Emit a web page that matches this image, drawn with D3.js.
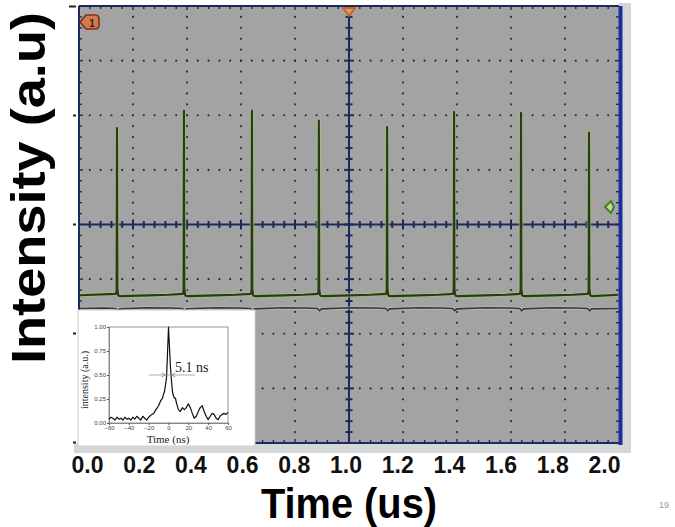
<!DOCTYPE html>
<html>
<head>
<meta charset="utf-8">
<script src="https://cdn.jsdelivr.net/npm/d3@7/dist/d3.min.js"></script>
<style>
  html, body { margin: 0; padding: 0; background: #fff; }
  svg { display: block; }
</style>
</head>
<body>
<div id="main"></div>
<script>
// --- data ---
var xTicks = [0.0, 0.2, 0.4, 0.6, 0.8, 1.0, 1.2, 1.4, 1.6, 1.8, 2.0];
var yTicks = [0, 1, 2, 3, 4];
// pulse times (us) and peak heights (a.u., in screen units)
var pulseTimes = [0.116, 0.375, 0.638, 0.897, 1.161, 1.420, 1.679, 1.942];
var pulsePeaks = [2.88, 3.04, 3.04, 2.95, 2.89, 3.03, 3.02, 2.84];
var baseLevel = 1.355;
var refLevel = 1.225;
// shape of one spike around its peak: [dt (us), offset from baseline]
var pulseShape = [[-0.004, 0.004], [-0.0015, 0.04], [0, null], [0.0015, 0.05], [0.005, -0.012], [0.016, -0.017], [0.12, -0.01], [0.2, -0.004]];
// inset: single pulse
var insetT = [-60, -58, -56, -54, -52, -50, -48, -46, -44, -42, -40, -38, -36, -34, -32, -30, -28, -26, -24, -22, -20,
  -18, -15, -12, -10, -8, -6, -5, -4, -3, -2, -1, 0, 1, 2, 3, 4, 5, 6, 7, 8, 10, 12, 14, 16, 18, 20, 22, 24, 26, 28,
  30, 32, 34, 36, 38, 40, 42, 44, 46, 48, 50, 52, 54, 56, 58, 60];
var insetV = [0.04, 0.06, 0.05, 0.03, 0.06, 0.04, 0.05, 0.03, 0.06, 0.04, 0.05, 0.03, 0.06, 0.04, 0.07, 0.05, 0.03, 0.07, 0.05, 0.03, 0.06,
  0.08, 0.1, 0.15, 0.18, 0.23, 0.26, 0.3, 0.33, 0.4, 0.47, 0.72, 1.0, 0.79, 0.58, 0.44, 0.33, 0.28, 0.26, 0.26, 0.21, 0.14, 0.12, 0.16, 0.14, 0.16, 0.2, 0.16, 0.1, 0.05, 0.07,
  0.12, 0.16, 0.18, 0.12, 0.07, 0.035, 0.07, 0.1, 0.09, 0.05, 0.035, 0.07, 0.09, 0.1, 0.09, 0.11];
var insetXTicks = [-60, -40, -20, 0, 20, 40, 60];
var insetYTicks = [0, 0.25, 0.5, 0.75, 1.0];

var W = 675, H = 527;
var svg = d3.select('#main').append('svg').attr('width', W).attr('height', H);
svg.append('rect').attr('width', W).attr('height', H).attr('fill', '#fff');

// scope graticule scales (10 x 8 divisions)
var gx = d3.scaleLinear().domain([0, 10]).range([79, 619]);
var gy = d3.scaleLinear().domain([0, 8]).range([6, 443]);
// data scales
var x = d3.scaleLinear().domain([0, 2]).range([87, 604]);
var y = d3.scaleLinear().domain([0, 4]).range([442, 6]);

// bevel / frame
svg.append('rect').attr('x', 619).attr('y', 3).attr('width', 12).attr('height', 450).attr('fill', '#d4d6d8');
svg.append('rect').attr('x', 74).attr('y', 443).attr('width', 557).attr('height', 10).attr('fill', '#d4d6d8');
svg.append('rect').attr('x', gx(0)).attr('y', gy(0)).attr('width', gx(10) - gx(0)).attr('height', gy(8) - gy(0))
    .attr('fill', '#a3a3a3');

var grid = svg.append('g');
var dotColor = '#2b2e3a';
// dotted major grid lines
d3.range(1, 10).filter(d => d !== 5).forEach(function (i) {
    grid.append('g').selectAll('circle').data(d3.range(1, 40)).enter().append('circle')
        .attr('cx', gx(i)).attr('cy', d => gy(d / 5)).attr('r', 1.1).attr('fill', dotColor);
});
d3.range(1, 8).filter(d => d !== 4).forEach(function (j) {
    grid.append('g').selectAll('circle').data(d3.range(1, 50)).enter().append('circle')
        .attr('cx', d => gx(d / 5)).attr('cy', gy(j)).attr('r', 1.1).attr('fill', dotColor);
});

var navy = '#1d2b5c';
// centre lines with cross ticks
grid.append('line').attr('x1', gx(0)).attr('x2', gx(10)).attr('y1', gy(4)).attr('y2', gy(4))
    .attr('stroke', navy).attr('stroke-width', 2);
grid.append('line').attr('x1', gx(5)).attr('x2', gx(5)).attr('y1', gy(0)).attr('y2', gy(8))
    .attr('stroke', navy).attr('stroke-width', 2);
grid.append('g').selectAll('line').data(d3.range(1, 50)).enter().append('line')
    .attr('x1', d => gx(d / 5)).attr('x2', d => gx(d / 5))
    .attr('y1', d => gy(4) - (d % 5 === 0 ? 5 : 3.5)).attr('y2', d => gy(4) + (d % 5 === 0 ? 5 : 3.5))
    .attr('stroke', navy).attr('stroke-width', 2);
grid.append('g').selectAll('line').data(d3.range(1, 40)).enter().append('line')
    .attr('y1', d => gy(d / 5)).attr('y2', d => gy(d / 5))
    .attr('x1', d => gx(5) - (d % 5 === 0 ? 5 : 3.5)).attr('x2', d => gx(5) + (d % 5 === 0 ? 5 : 3.5))
    .attr('stroke', navy).attr('stroke-width', 2);

// border with inner ticks
var bt = grid.append('g').attr('stroke', navy).attr('stroke-width', 1.4);
d3.range(1, 50).forEach(function (d) {
    var len = d % 5 === 0 ? 4 : 3;
    bt.append('line').attr('x1', gx(d / 5)).attr('x2', gx(d / 5)).attr('y1', gy(0)).attr('y2', gy(0) + len);
    bt.append('line').attr('x1', gx(d / 5)).attr('x2', gx(d / 5)).attr('y1', gy(8)).attr('y2', gy(8) - len);
});
d3.range(1, 40).forEach(function (d) {
    var len = d % 5 === 0 ? 4 : 3;
    bt.append('line').attr('y1', gy(d / 5)).attr('y2', gy(d / 5)).attr('x1', gx(0)).attr('x2', gx(0) + len);
    bt.append('line').attr('y1', gy(d / 5)).attr('y2', gy(d / 5)).attr('x1', gx(10)).attr('x2', gx(10) - len);
});
grid.append('line').attr('x1', gx(0)).attr('x2', gx(10)).attr('y1', gy(0)).attr('y2', gy(0)).attr('stroke', navy).attr('stroke-width', 2);
grid.append('line').attr('x1', gx(0)).attr('x2', gx(0)).attr('y1', gy(0)).attr('y2', gy(8)).attr('stroke', navy).attr('stroke-width', 2);
grid.append('line').attr('x1', gx(0)).attr('x2', gx(10)).attr('y1', gy(8)).attr('y2', gy(8)).attr('stroke', navy).attr('stroke-width', 2);
grid.append('line').attr('x1', gx(10) + 1.5).attr('x2', gx(10) + 1.5).attr('y1', gy(0)).attr('y2', gy(8) + 2)
    .attr('stroke', '#1b2f9a').attr('stroke-width', 4);

// --- traces ---
var tStart = x.invert(gx(0) + 1), tEnd = x.invert(gx(10) - 1);
var tracePts = [[tStart, baseLevel - 0.008]];
pulseTimes.forEach(function (t, i) {
    pulseShape.forEach(function (s) {
        tracePts.push([t + s[0], s[1] === null ? pulsePeaks[i] : baseLevel + s[1]]);
    });
});
tracePts.push([tEnd, baseLevel - 0.004]);
tracePts = tracePts.filter(p => p[0] >= tStart && p[0] <= tEnd);

var refPts = [[tStart, refLevel]];
pulseTimes.forEach(function (t, i) {
    refPts.push([t - 0.05, refLevel + 0.004]);
    refPts.push([t - 0.005, refLevel]);
    refPts.push([t + 0.002, refLevel - 0.022]);
    refPts.push([t + 0.01, refLevel - 0.004]);
    refPts.push([t + 0.12, refLevel + 0.006]);
});
refPts.push([tEnd, refLevel]);
refPts = refPts.filter(p => p[0] >= tStart && p[0] <= tEnd);

var line = d3.line().x(d => x(d[0])).y(d => y(d[1]));
var traces = svg.append('g').attr('fill', 'none').attr('stroke-linejoin', 'round');
traces.append('path').datum(refPts).attr('d', line).attr('stroke', '#c9ccbf').attr('stroke-width', 3.2).attr('opacity', 0.6);
traces.append('path').datum(refPts).attr('d', line).attr('stroke', '#333a33').attr('stroke-width', 1.6);
traces.append('path').datum(tracePts).attr('d', line).attr('stroke', '#a8c070').attr('stroke-width', 4.2).attr('opacity', 0.7);
traces.append('path').datum(tracePts).attr('d', line).attr('stroke', '#283a1e').attr('stroke-width', 2.1);

// --- scope markers ---
svg.append('path').attr('d', 'M80,22 L86,15 L95,15 Q99,15 99,19 L99,25 Q99,29 95,29 L86,29 Z')
    .attr('fill', '#cf7a55').attr('stroke', '#8a2c12').attr('stroke-width', 1.6);
svg.append('text').attr('x', 92).attr('y', 26.5).attr('text-anchor', 'middle')
    .attr('font-family', 'Liberation Sans, Arial, sans-serif').attr('font-weight', 'bold').attr('font-size', 10)
    .attr('fill', '#4a1508').text('1');
svg.append('path').attr('d', 'M343,8 L355,8 L349,16 Z')
    .attr('fill', '#c9a080').attr('stroke', '#d2601f').attr('stroke-width', 2).attr('stroke-linejoin', 'round');
svg.append('path').attr('d', 'M605,207 L611,201 L614,207 L611,213 Z')
    .attr('fill', '#c8d890').attr('stroke', '#3c7a24').attr('stroke-width', 1.8);

// --- left tick marks (no labels) ---
var yAxis = svg.append('g').attr('transform', 'translate(76,0)')
    .call(d3.axisLeft(y).tickValues(yTicks).tickSize(3).tickFormat(''));
yAxis.select('.domain').remove();
yAxis.selectAll('.tick line').attr('stroke', '#222').attr('stroke-width', 2)
    .attr('x2', d => d === 4 ? -7 : -3);

// --- x tick labels ---
var xAxis = svg.append('g').attr('transform', 'translate(0,454)')
    .call(d3.axisBottom(x).tickValues(xTicks).tickSize(0).tickPadding(3).tickFormat(d3.format('.1f')));
xAxis.select('.domain').remove();
xAxis.selectAll('text').attr('font-family', 'Liberation Sans, Arial, sans-serif').attr('font-weight', 'bold')
    .attr('font-size', 23).attr('fill', '#111');

// axis titles
svg.append('text').attr('x', 349).attr('y', 518).attr('text-anchor', 'middle')
    .attr('font-family', 'Liberation Sans, Arial, sans-serif').attr('font-weight', 'bold').attr('font-size', 43)
    .attr('textLength', 176).attr('lengthAdjust', 'spacingAndGlyphs').attr('fill', '#000').text('Time (us)');
svg.append('text').attr('transform', 'translate(45,188) rotate(-90)').attr('text-anchor', 'middle')
    .attr('font-family', 'Liberation Sans, Arial, sans-serif').attr('font-weight', 'bold').attr('font-size', 49)
    .attr('textLength', 352).attr('lengthAdjust', 'spacingAndGlyphs').attr('fill', '#000').text('Intensity (a.u)');

svg.append('text').attr('x', 664).attr('y', 508).attr('text-anchor', 'middle')
    .attr('font-family', 'Liberation Sans, Arial, sans-serif').attr('font-size', 9).attr('fill', '#999').text('19');

// --- inset ---
var inset = svg.append('g');
inset.append('rect').attr('x', 78).attr('y', 310).attr('width', 177).attr('height', 136)
    .attr('fill', '#fff').attr('stroke', '#d0d0d0').attr('stroke-width', 1);
var ix = d3.scaleLinear().domain([-60, 60]).range([109, 228]);
var iy = d3.scaleLinear().domain([0, 1]).range([423, 327]);
inset.append('rect').attr('x', ix(-60)).attr('y', iy(1)).attr('width', ix(60) - ix(-60)).attr('height', iy(0) - iy(1))
    .attr('fill', 'none').attr('stroke', '#777').attr('stroke-width', 0.8);
var ixAxis = inset.append('g').attr('transform', 'translate(0,' + iy(0) + ')')
    .call(d3.axisBottom(ix).tickValues(insetXTicks).tickSize(2).tickPadding(1));
var iyAxis = inset.append('g').attr('transform', 'translate(' + ix(-60) + ',0)')
    .call(d3.axisLeft(iy).tickValues(insetYTicks).tickSize(2).tickPadding(1).tickFormat(d3.format('.2f')));
[ixAxis, iyAxis].forEach(function (a) {
    a.select('.domain').attr('stroke', '#777').attr('stroke-width', 0.8);
    a.selectAll('.tick line').attr('stroke', '#555');
    a.selectAll('text').attr('font-family', 'Liberation Sans, Arial, sans-serif').attr('font-size', 6).attr('fill', '#444');
});
var iline = d3.line().x((d, i) => ix(insetT[i])).y(d => iy(d));
inset.append('path').datum(insetV).attr('d', iline).attr('fill', 'none')
    .attr('stroke', '#111').attr('stroke-width', 1.2).attr('stroke-linejoin', 'round');
// FWHM marker
inset.append('line').attr('x1', ix(-20)).attr('x2', ix(27)).attr('y1', iy(0.5)).attr('y2', iy(0.5))
    .attr('stroke', '#999').attr('stroke-width', 0.8);
inset.append('path').attr('d', 'M' + (ix(-3) - 4) + ',' + (iy(0.5) - 2) + ' L' + ix(-3) + ',' + iy(0.5) + ' L' + (ix(-3) - 4) + ',' + (iy(0.5) + 2))
    .attr('fill', 'none').attr('stroke', '#888').attr('stroke-width', 0.8);
inset.append('path').attr('d', 'M' + (ix(3) + 4) + ',' + (iy(0.5) - 2) + ' L' + ix(3) + ',' + iy(0.5) + ' L' + (ix(3) + 4) + ',' + (iy(0.5) + 2))
    .attr('fill', 'none').attr('stroke', '#888').attr('stroke-width', 0.8);
inset.append('text').attr('x', 175).attr('y', 372)
    .attr('font-family', 'Liberation Serif, Times New Roman, serif').attr('font-size', 14).attr('fill', '#222').text('5.1 ns');
inset.append('text').attr('x', 168).attr('y', 443).attr('text-anchor', 'middle')
    .attr('font-family', 'Liberation Serif, Times New Roman, serif').attr('font-size', 11).attr('fill', '#222').text('Time (ns)');
inset.append('text').attr('transform', 'translate(88,380) rotate(-90)').attr('text-anchor', 'middle')
    .attr('font-family', 'Liberation Serif, Times New Roman, serif').attr('font-size', 10).attr('fill', '#222').text('intensity (a.u.)');
</script>
</body>
</html>
